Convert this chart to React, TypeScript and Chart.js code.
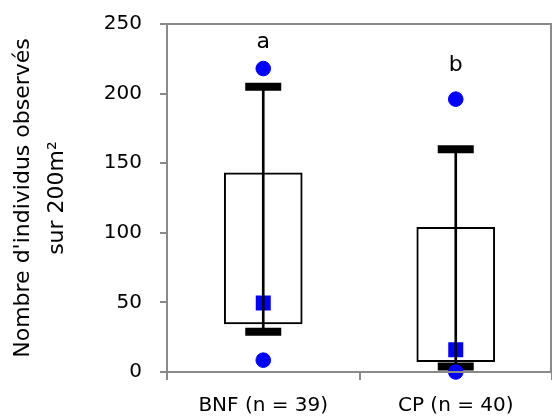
import React, { useEffect, useRef } from "react";
import { Chart, registerables } from "chart.js";

Chart.register(...registerables);

const categories = ["BNF (n = 39)", "CP (n = 40)"];
const q1 = [34.5, 7.5];
const q3 = [143, 104];
const whiskerLow = [29, 4];
const whiskerHigh = [205, 160];
const means = [49.5, 16];
const outlierHigh = [218, 196];
const outlierLow = [8.5, 0];
const letters = ["a", "b"];
const letterY = [232.5, 216.5];
const yTicks = [0, 50, 100, 150, 200, 250];

const FONT = "'DejaVu Sans', sans-serif";
const GRAY = "#8a8a8a";
const BLUE = "#0000ff";

const frameAndLetters = {
  id: "frameAndLetters",
  afterDatasetsDraw(chart: any) {
    const { ctx, chartArea, scales } = chart;
    ctx.save();
    ctx.strokeStyle = GRAY;
    ctx.lineWidth = 2;
    ctx.strokeRect(chartArea.left, chartArea.top, chartArea.right - chartArea.left - 1, chartArea.bottom - chartArea.top);
    ctx.fillStyle = "#000";
    ctx.font = `22px ${FONT}`;
    ctx.textAlign = "center";
    ctx.textBaseline = "alphabetic";
    letters.forEach((l, i) => {
      ctx.fillText(l, scales.x.getPixelForValue(i), scales.y.getPixelForValue(letterY[i]));
    });
    ctx.restore();
  },
};

export default function App() {
  const ref = useRef<HTMLCanvasElement>(null);
  useEffect(() => {
    const chart = new Chart(ref.current as HTMLCanvasElement, {
      type: "bar",
      data: {
        labels: categories,
        datasets: [
          {
            type: "line",
            data: outlierHigh,
            showLine: false,
            pointStyle: "circle",
            pointRadius: 7.3,
            pointBorderWidth: 1,
            pointBackgroundColor: BLUE,
            pointBorderColor: BLUE,
            order: 1,
          } as any,
          {
            type: "line",
            data: outlierLow,
            showLine: false,
            pointStyle: "circle",
            pointRadius: 7.3,
            pointBorderWidth: 1,
            pointBackgroundColor: BLUE,
            pointBorderColor: BLUE,
            clip: false,
            order: 1,
          } as any,
          {
            type: "line",
            data: whiskerHigh,
            showLine: false,
            pointStyle: "line",
            pointRadius: 18,
            pointBorderWidth: 8,
            pointBorderColor: "#000",
            order: 2,
          } as any,
          {
            type: "line",
            data: whiskerLow,
            showLine: false,
            pointStyle: "line",
            pointRadius: 18,
            pointBorderWidth: 8,
            pointBorderColor: "#000",
            order: 2,
          } as any,
          {
            type: "bar",
            data: whiskerLow.map((v, i) => [v, whiskerHigh[i]]),
            backgroundColor: "#000",
            borderWidth: 0,
            barThickness: 2,
            grouped: false,
            order: 3,
          } as any,
          {
            type: "line",
            data: means,
            showLine: false,
            pointStyle: "rect",
            pointRadius: 10.6,
            pointBorderWidth: 0,
            pointBackgroundColor: BLUE,
            pointBorderColor: BLUE,
            order: 4,
          } as any,
          {
            type: "bar",
            data: q1.map((v, i) => [v, q3[i]]),
            backgroundColor: "#fff",
            borderColor: "#000",
            borderWidth: 2,
            borderSkipped: false,
            barThickness: 78,
            grouped: false,
            order: 5,
          } as any,
        ],
      },
      options: {
        animation: false,
        responsive: false,
        events: [],
        layout: { autoPadding: false, padding: { top: 24, right: 0, left: 0, bottom: 0 } },
        plugins: { legend: { display: false }, tooltip: { enabled: false } },
        scales: {
          x: {
            type: "category",
            offset: true,
            grid: {
              display: true,
              offset: true,
              drawOnChartArea: false,
              drawTicks: true,
              tickLength: 8,
              color: GRAY,
              lineWidth: 2,
            },
            border: { display: true, color: GRAY, width: 2 },
            ticks: { color: "#000", font: { family: FONT, size: 20 }, padding: 14 },
            afterFit: (s: any) => {
              s.height = 48;
              s.paddingLeft = 0;
              s.paddingRight = 0;
            },
          },
          y: {
            min: 0,
            max: 250,
            afterBuildTicks: (s: any) => {
              s.ticks = yTicks.map((v) => ({ value: v }));
            },
            grid: {
              display: true,
              drawOnChartArea: false,
              drawTicks: true,
              tickLength: 7,
              color: GRAY,
              lineWidth: 2,
            },
            border: { display: true, color: GRAY, width: 2 },
            ticks: { color: "#000", font: { family: FONT, size: 20 }, padding: 18 },
            title: {
              display: true,
              text: ["Nombre d'individus observés", "sur 200m²"],
              color: "#000",
              font: { family: FONT, size: 22, lineHeight: 1.55 },
              padding: { top: 6, bottom: 0 },
            },
            afterFit: (s: any) => {
              s.width = 167;
              s.paddingTop = 0;
              s.paddingBottom = 0;
            },
          },
        },
      },
      plugins: [frameAndLetters],
    });
    return () => chart.destroy();
  }, []);
  return (
    <div style={{ position: "fixed", left: 0, top: 0, width: 552, height: 420, background: "#fff" }}>
      <canvas ref={ref} width={552} height={420} style={{ display: "block" }} />
    </div>
  );
}
